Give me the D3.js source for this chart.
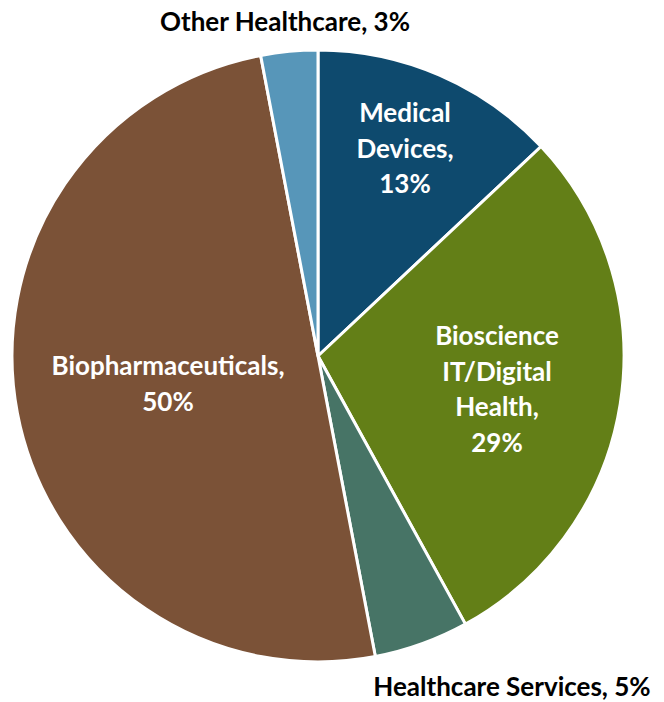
<!DOCTYPE html>
<html><head><meta charset="utf-8">
<script src="https://cdn.jsdelivr.net/npm/d3@7"></script>
<style>body{margin:0;background:#fff;} text{font-family:Lato,"Open Sans",sans-serif;font-weight:700;}</style>
</head><body>
<svg id="c" width="664" height="702"></svg>
<script>
const categories = ["Medical Devices", "Bioscience IT/Digital Health", "Healthcare Services", "Biopharmaceuticals", "Other Healthcare"];
const values = [13, 29, 5, 50, 3];
const colors = ["#0e4a6e", "#637f17", "#477466", "#7b5237", "#5796b9"];
const labelLines = [["Medical","Devices,","13%"],["Bioscience","IT/Digital","Health,","29%"],["Healthcare Services, 5%"],["Biopharmaceuticals,","50%"],["Other Healthcare, 3%"]];
const labelInside = [true, true, false, true, false];
const labelPos = [[405,113],[497,336],[512,687],[168,366],[285,22]];

const svg = d3.select("#c");
const cx = 318, cy = 356, R = 306;
const pie = d3.pie().sort(null).value(d => d)(values);
const arc = d3.arc().innerRadius(0).outerRadius(R);
const g = svg.append("g").attr("transform", `translate(${cx},${cy})`);
g.selectAll("path").data(pie).enter().append("path")
  .attr("d", arc).attr("fill", (d,i) => colors[i])
  .attr("stroke", "#fff").attr("stroke-width", 3).attr("stroke-linejoin","round");

const lh = 35.5;
labelLines.forEach((lines, i) => {
  const t = svg.append("text").attr("text-anchor","middle")
    .attr("font-size", 26).attr("fill", labelInside[i] ? "#fff" : "#000");
  lines.forEach((ln, j) => {
    t.append("tspan").attr("x", labelPos[i][0]).attr("y", labelPos[i][1] + j*lh).attr("dy","0.35em").text(ln);
  });
});
</script>
</body></html>
